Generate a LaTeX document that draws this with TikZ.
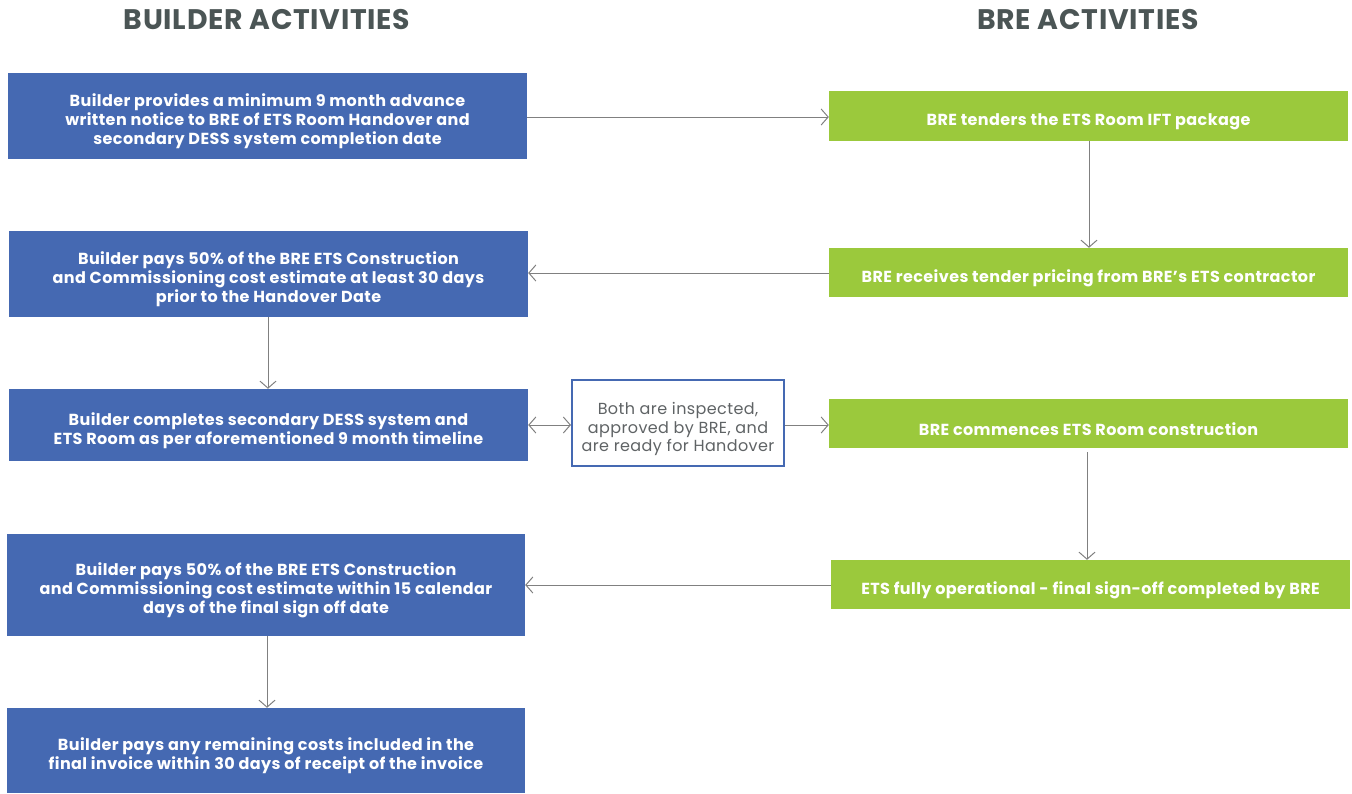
\documentclass[tikz,border=0pt]{standalone}
\usepackage{fontspec}
\setmainfont{Poppins}[LetterSpace=2.5]
\usetikzlibrary{arrows.meta}
\definecolor{bblue}{HTML}{4569B2}
\definecolor{bgreen}{HTML}{9BC93C}
\definecolor{tgray}{HTML}{4B5555}
\definecolor{mgray}{HTML}{5F6365}
\definecolor{agray}{HTML}{808080}
\tikzset{
  box/.style={rectangle, inner sep=0pt},
  bluebox/.style={box, fill=bblue},
  greenbox/.style={box, fill=bgreen},
  wtext/.style={inner sep=0pt, align=center, text=white, yshift=-5.5pt,
    font=\fontsize{16}{19}\selectfont\bfseries},
  midbox/.style={rectangle, draw=bblue, line width=2pt, fill=white, inner sep=0pt},
  mtext/.style={inner sep=0pt, align=center, text=mgray, yshift=-6pt,
    font=\fontsize{16}{18.5}\selectfont},
  title/.style={text=tgray, font=\fontsize{28.3}{32}\selectfont\bfseries},
  conn/.style={draw=agray, line width=1pt, -{Straight Barb[length=7pt,width=16pt]}},
  dconn/.style={draw=agray, line width=1pt, {Straight Barb[length=7pt,width=16pt]}-{Straight Barb[length=7pt,width=16pt]}}
}
\begin{document}
\begin{tikzpicture}[x=1pt,y=-1pt]
\useasboundingbox (0,0) rectangle (1352,793);
\node[title] (t1) at (267,19.5) {BUILDER ACTIVITIES};
\node[title] (t2) at (1088,19.5) {BRE ACTIVITIES};

\node[bluebox, minimum width=519pt, minimum height=86pt,
  label={[wtext]center:{Builder provides a minimum 9 month advance\\written notice to BRE of ETS Room Handover and\\secondary DESS system completion date}}]
  (b1) at (267.5,116) {};
\node[bluebox, minimum width=519pt, minimum height=86pt,
  label={[wtext]center:{Builder pays 50\% of the BRE ETS Construction\\and Commissioning cost estimate at least 30 days\\prior to the Handover Date}}]
  (b2) at (268.5,274) {};
\node[bluebox, minimum width=519pt, minimum height=72pt,
  label={[wtext]center:{Builder completes secondary DESS system and\\ETS Room as per aforementioned 9 month timeline}}]
  (b3) at (268.5,425) {};
\node[bluebox, minimum width=518pt, minimum height=102pt,
  label={[wtext]center:{Builder pays 50\% of the BRE ETS Construction\\and Commissioning cost estimate within 15 calendar\\days of the final sign off date}}]
  (b4) at (266,585) {};
\node[bluebox, minimum width=518pt, minimum height=85pt,
  label={[wtext]center:{Builder pays any remaining costs included in the\\final invoice within 30 days of receipt of the invoice}}]
  (b5) at (266,750.5) {};

\node[greenbox, minimum width=519pt, minimum height=50pt,
  label={[wtext]center:{BRE tenders the ETS Room IFT package}}]
  (g1) at (1088.5,116) {};
\node[greenbox, minimum width=519pt, minimum height=49pt,
  label={[wtext]center:{BRE receives tender pricing from BRE’s ETS contractor}}]
  (g2) at (1088.5,272.5) {};
\node[greenbox, minimum width=519pt, minimum height=49pt,
  label={[wtext]center:{BRE commences ETS Room construction}}]
  (g3) at (1088.5,423.5) {};
\node[greenbox, minimum width=519pt, minimum height=49pt,
  label={[wtext]center:{ETS fully operational - final sign-off completed by BRE}}]
  (g4) at (1090.5,584.5) {};

\node[midbox, minimum width=212pt, minimum height=86pt,
  label={[mtext]center:{Both are inspected,\\approved by BRE, and\\are ready for Handover}}]
  (m) at (678,423) {};

\draw[conn] (b1.east |- 0,117) -- (g1.west |- 0,117);
\draw[conn] (g1.south -| 1089,0) -- (g2.north -| 1089,0);
\draw[conn] (g2.west |- 0,273) -- (b2.east |- 0,273);
\draw[conn] (b2.south -| 268,0) -- (b3.north -| 268,0);
\draw[dconn] (b3.east |- 0,425) -- (m.west |- 0,425);
\draw[conn] (m.east |- 0,425) -- (g3.west |- 0,425);
\draw[conn, shorten <=4pt] (g3.south -| 1087,0) -- (g4.north -| 1087,0);
\draw[conn] (g4.west |- 0,585) -- (b4.east |- 0,585);
\draw[conn] (b4.south -| 267,0) -- (b5.north -| 267,0);
\end{tikzpicture}
\end{document}
